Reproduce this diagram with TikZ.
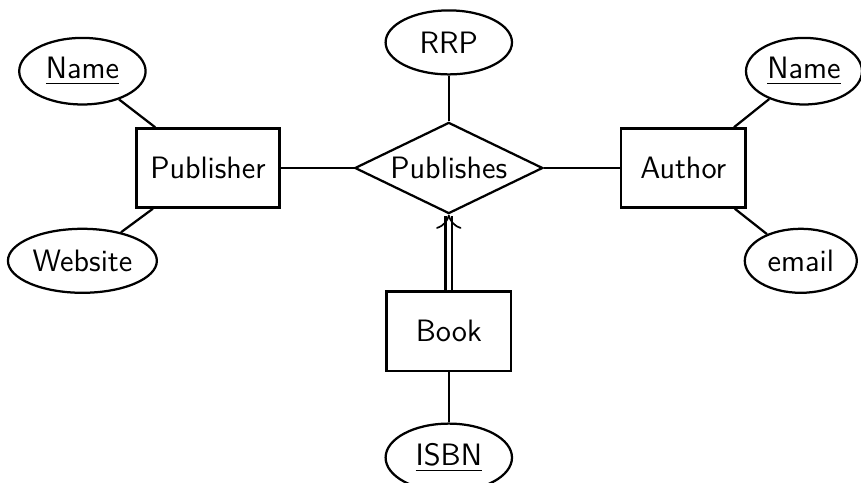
\documentclass[tikz,border=0pt]{standalone}
\usepackage{tikz}
\usetikzlibrary{arrows, arrows.meta, shapes, positioning}

\begin{document}
\begin{tikzpicture}[
    every node/.style={font=\sffamily\fontsize{11}{13}\selectfont},
    entity/.style={draw, rectangle, thick, minimum width=1.56cm, minimum height=0.99cm},
    relation/.style={draw, diamond, thick, aspect=2.07, minimum width=2.35cm, minimum height=1.14cm, inner sep=1pt},
    attr/.style={draw, ellipse, thick, minimum width=1.58cm, minimum height=0.8cm, inner xsep=1pt, inner ysep=3.5pt}
]
    \useasboundingbox (0,0) rectangle (10.7625,-6.0375);

    % Entities and the relationship
    \node[relation] (publishes) at (5.61,-2.1) {Publishes};
    \node[entity, minimum width=1.79cm] (publisher) at (2.6,-2.1) {Publisher};
    \node[entity] (author) at (8.54,-2.1) {Author};
    \node[entity] (book) at (5.61,-4.14) {Book};

    % Attributes
    \node[attr] (rrp) at (5.61,-0.53) {RRP};
    \node[attr] (pubname) at (1.03,-0.89) {\underline{Name}};
    \node[attr, minimum width=1.84cm] (website) at (1.03,-3.26) {Website};
    \node[attr, minimum width=1.45cm] (authname) at (10.05,-0.89) {\underline{Name}};
    \node[attr, minimum width=1.4cm] (email) at (10.01,-3.26) {email};
    \node[attr] (isbn) at (5.61,-5.72) {\underline{ISBN}};

    % Connect everything
    \draw[thick] (publisher) -- (publishes);
    \draw[thick] (publishes) -- (author);
    \draw[thick] (rrp) -- (publishes);
    \draw[thick] (pubname) -- (publisher);
    \draw[thick] (website) -- (publisher);
    \draw[thick] (authname) -- (author);
    \draw[thick] (email) -- (author);
    \draw[thick] (book) -- (isbn);
    \draw[thick, double, double distance=1.6pt, -{To[line width=0.6pt, length=5pt, width=9pt]}] (book) -- (publishes);
\end{tikzpicture}
\end{document}
